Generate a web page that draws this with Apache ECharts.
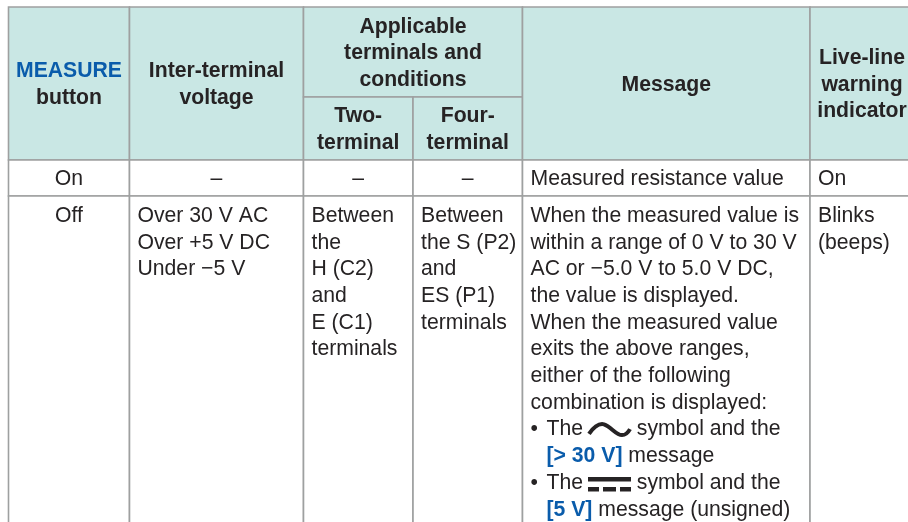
<!DOCTYPE html>
<html>
<head>
<meta charset="utf-8">
<style>html,body{margin:0;padding:0;background:#fff}#main{width:908px;height:522px}</style>
<script src="https://cdn.jsdelivr.net/npm/echarts@6/dist/echarts.min.js"></script>
</head>
<body>
<div id="main"></div>
<script>
// table text
var headMeasure = ['{blue|MEASURE}', 'button']
var headVoltage = ['Inter-terminal', 'voltage']
var headApplicable = ['Applicable', 'terminals and', 'conditions']
var headTwo = ['Two-', 'terminal']
var headFour = ['Four-', 'terminal']
var headMessage = ['Message']
var headLive = ['Live-line', 'warning', 'indicator']

var rowOn = ['On', '–', '–', '–', 'Measured resistance value', 'On']

var offButton = ['Off']
var offVoltage = ['Over 30 V AC', 'Over +5 V DC', 'Under −5 V']
var offTwo = ['Between', 'the', 'H (C2)', 'and', 'E (C1)', 'terminals']
var offFour = ['Between', 'the S (P2)', 'and', 'ES (P1)', 'terminals']
var offMessage = [
    'When the measured value is',
    'within a range of 0 V to 30 V',
    'AC or −5.0 V to 5.0 V DC,',
    'the value is displayed.',
    'When the measured value',
    'exits the above ranges,',
    'either of the following',
    'combination is displayed:',
    '{bullet|•}The {symbol|} symbol and the',
    '{indent|}{blue|[> 30 V]} message',
    '{bullet|•}The {symbol|} symbol and the',
    '{indent|}{blue|[5 V]} message (unsigned)'
]
var offLive = ['Blinks', '(beeps)']

// layout, in page pixels
var colX = [8.5, 129.5, 303.5, 413, 522.5, 810, 914]
var rowY = [7, 97, 160, 196, 540]
var lineStep = 26.7
var bodyFirstLine = 216
var acLine = 8
var dcLine = 10
var textDrop = 1.4

var FONT = '"Liberation Sans", Arial, sans-serif'
var FONT_SIZE = 21.2
var TEXT_COLOR = '#262324'
var BLUE = '#0a5cab'
var GRID_COLOR = '#9ea0a0'
var HEAD_BG = '#c9e7e4'

var rich = {
    blue: { font: 'bold ' + FONT_SIZE + 'px ' + FONT, fill: BLUE },
    bullet: { font: FONT_SIZE + 'px ' + FONT, width: 16, fill: TEXT_COLOR },
    indent: { width: 16, font: FONT_SIZE + 'px ' + FONT },
    symbol: { width: 42, font: FONT_SIZE + 'px ' + FONT }
}

// [lines, col from, col to, row from, row to, bold, align]
var cells = [
    [headMeasure, 0, 1, 0, 2, true, 'center'],
    [headVoltage, 1, 2, 0, 2, true, 'center'],
    [headApplicable, 2, 4, 0, 1, true, 'center'],
    [headTwo, 2, 3, 1, 2, true, 'center'],
    [headFour, 3, 4, 1, 2, true, 'center'],
    [headMessage, 4, 5, 0, 2, true, 'center'],
    [headLive, 5, 6, 0, 2, true, 'center'],
    [[rowOn[0]], 0, 1, 2, 3, false, 'center'],
    [[rowOn[1]], 1, 2, 2, 3, false, 'center'],
    [[rowOn[2]], 2, 3, 2, 3, false, 'center'],
    [[rowOn[3]], 3, 4, 2, 3, false, 'center'],
    [[rowOn[4]], 4, 5, 2, 3, false, 'left'],
    [[rowOn[5]], 5, 6, 2, 3, false, 'left'],
    [offButton, 0, 1, 3, 4, false, 'center'],
    [offVoltage, 1, 2, 3, 4, false, 'left'],
    [offTwo, 2, 3, 3, 4, false, 'left'],
    [offFour, 3, 4, 3, 4, false, 'left'],
    [offMessage, 4, 5, 3, 4, false, 'left'],
    [offLive, 5, 6, 3, 4, false, 'left']
]

function renderCell(params, api) {
    var c = cells[params.dataIndex]
    var tl = api.coord([colX[c[1]], rowY[c[3]]])
    var br = api.coord([colX[c[2]], rowY[c[4]]])
    var isBody = c[3] === 3
    var isHead = c[4] <= 2
    var children = [{
        type: 'rect',
        shape: { x: tl[0], y: tl[1], width: br[0] - tl[0], height: br[1] - tl[1] },
        style: { fill: isHead ? HEAD_BG : '#fff', stroke: GRID_COLOR, lineWidth: 1.6 }
    }]
    var total = c[0].length * lineStep
    var firstY = isBody ? bodyFirstLine : (tl[1] + br[1]) / 2 - total / 2 + lineStep / 2 + textDrop
    var x = c[6] === 'center' ? (tl[0] + br[0]) / 2 : tl[0] + 8
    c[0].forEach(function (line, i) {
        children.push({
            type: 'text',
            style: {
                x: x,
                y: firstY + i * lineStep,
                text: line,
                rich: rich,
                font: (c[5] ? 'bold ' : '') + FONT_SIZE + 'px ' + FONT,
                fill: TEXT_COLOR,
                align: c[6],
                verticalAlign: 'middle'
            }
        })
    })
    if (c[0] === offMessage) {
        var sx = tl[0] + 65.5
        var ay = bodyFirstLine + acLine * lineStep
        children.push({
            type: 'path',
            shape: {
                pathData: 'M0 9C5 3 10 0 15 1C22 3 27 10 33 10C36 10 39 8 41 5',
                layout: 'cover',
                x: sx + 1,
                y: ay - 5.5,
                width: 41,
                height: 11
            },
            style: { fill: 'none', stroke: TEXT_COLOR, lineWidth: 4 }
        })
        var dy = bodyFirstLine + dcLine * lineStep
        children.push({
            type: 'rect',
            shape: { x: sx, y: dy - 6, width: 43, height: 4.5 },
            style: { fill: TEXT_COLOR }
        })
        ;[[0, 11], [15, 13], [32, 11]].forEach(function (d) {
            children.push({
                type: 'rect',
                shape: { x: sx + d[0], y: dy + 4, width: d[1], height: 4.5 },
                style: { fill: TEXT_COLOR }
            })
        })
    }
    return { type: 'group', children: children }
}

var myChart = echarts.init(document.getElementById('main'), null, { renderer: 'canvas' })
var option = {
    animation: false,
    backgroundColor: '#fff',
    grid: { left: 0, right: 0, top: 0, bottom: 0 },
    xAxis: { type: 'value', min: 0, max: 908, show: false },
    yAxis: { type: 'value', min: 0, max: 522, inverse: true, show: false },
    series: [{
        type: 'custom',
        coordinateSystem: 'cartesian2d',
        clip: false,
        silent: true,
        renderItem: renderCell,
        data: cells.map(function (c, i) { return [i, i] }),
        encode: { x: 0, y: 1 }
    }]
}
myChart.setOption(option)
</script>
</body>
</html>
